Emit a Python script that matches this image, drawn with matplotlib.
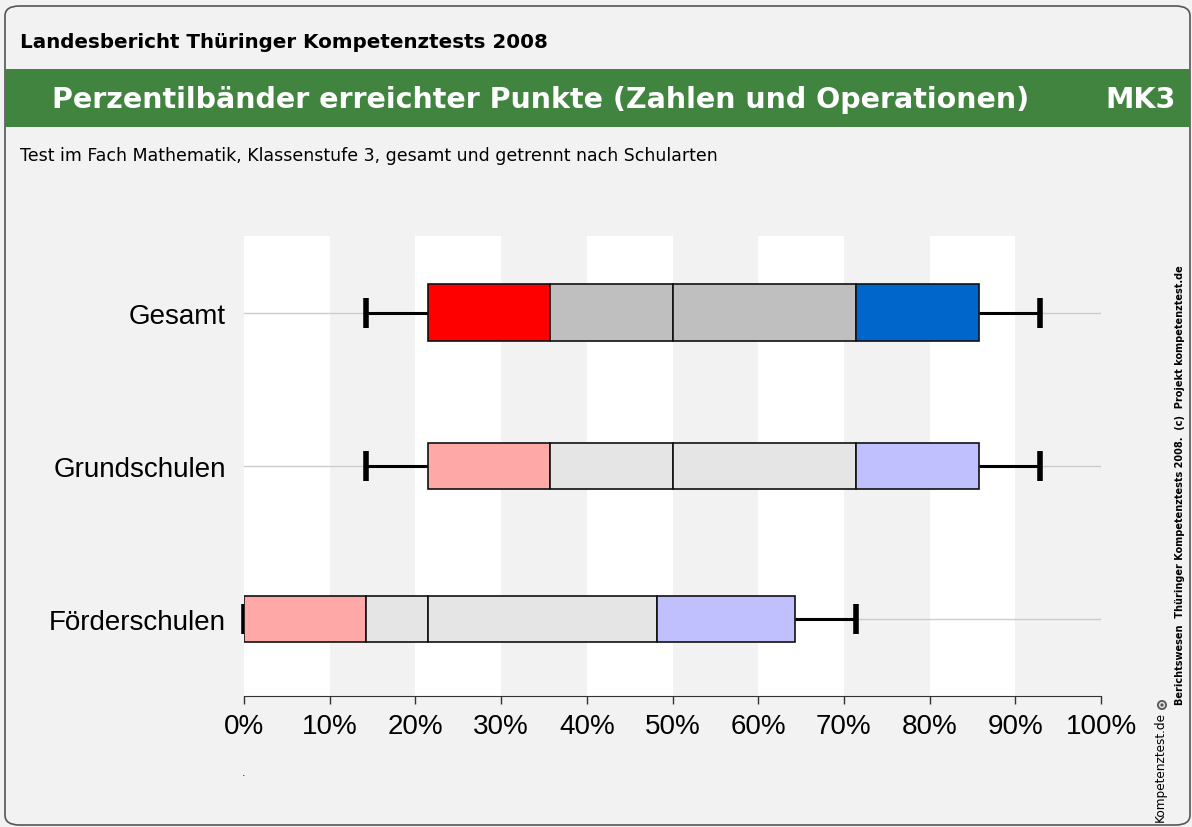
import matplotlib.pyplot as plt
from matplotlib.patches import FancyBboxPatch, Rectangle, Circle
import numpy as np

# Daten: Perzentile (in %) je Gruppe
gruppen = ['Gesamt', 'Grundschulen', 'Förderschulen']
p05 = [14.29, 14.29, 0.0]
p10 = [21.43, 21.43, 0.0]
p25 = [35.71, 35.71, 14.29]
p50 = [50.0, 50.0, 21.43]
p75 = [71.43, 71.43, 48.2]
p90 = [85.71, 85.71, 64.29]
p95 = [92.86, 92.86, 71.43]
x_ticks = [0, 10, 20, 30, 40, 50, 60, 70, 80, 90, 100]
x_labels = ['%d%%' % t for t in x_ticks]

# Farben: [unten, mitte, mitte, oben]
farben = [
    ['#ff0000', '#bfbfbf', '#bfbfbf', '#0066cc'],
    ['#ffa8a8', '#e5e5e5', '#e5e5e5', '#c0c0ff'],
    ['#ffa8a8', '#e5e5e5', '#e5e5e5', '#c0c0ff'],
]
hoehen = [0.374, 0.3, 0.3]
bg = '#f2f2f2'

fig = plt.figure(figsize=(11.92, 8.28), dpi=100)
fig.patch.set_facecolor(bg)

# Rahmen
rahmen = FancyBboxPatch((5 / 1192, 2 / 828), 1185 / 1192, 819 / 828,
                        boxstyle='round,pad=0,rounding_size=0.012',
                        transform=fig.transFigure, facecolor=bg,
                        edgecolor='#555555', linewidth=1.2, zorder=-10)
fig.patches.append(rahmen)
# gruener Balken
fig.patches.append(Rectangle((5 / 1192, (828 - 128) / 828), 1185 / 1192, 58 / 828,
                             transform=fig.transFigure, facecolor='#41843f',
                             edgecolor='none', zorder=-9))

fig.text(20 / 1192, 1 - 42 / 828, 'Landesbericht Thüringer Kompetenztests 2008',
         fontsize=14.3, fontweight='bold', va='center', ha='left',
         family='DejaVu Sans')
fig.text(52 / 1192, 1 - 100 / 828,
         'Perzentilbänder erreichter Punkte (Zahlen und Operationen)',
         fontsize=20.5, fontweight='bold', color='white', va='center', ha='left',
         family='DejaVu Sans')
fig.text(1176 / 1192, 1 - 100 / 828, 'MK3', fontsize=20.5, fontweight='bold',
         color='white', va='center', ha='right', family='DejaVu Sans')
fig.text(20 / 1192, 1 - 156 / 828,
         'Test im Fach Mathematik, Klassenstufe 3, gesamt und getrennt nach Schularten',
         fontsize=12.5, va='center', ha='left', family='DejaVu Sans')

fig.text(1180 / 1192, 1 - 485 / 828,
         'Berichtswesen  Thüringer Kompetenztests 2008.  (c)  Projekt kompetenztest.de',
         fontsize=7, fontweight='bold', rotation=90, va='center', ha='center',
         family='DejaVu Sans Condensed')
fig.text(1160 / 1192, 1 - 767 / 828, 'Kompetenztest.de', fontsize=8.7,
         rotation=90, va='center', ha='center', family='DejaVu Sans Condensed')
# kleines Logo-Symbol
for r, c in [(5, '#555555'), (3.2, '#dddddd'), (1.6, '#555555')]:
    fig.patches.append(Circle((1162, 828 - 706), r, transform=None,
                              facecolor=c, edgecolor='none'))
fig.text(244 / 1192, 1 - 773 / 828, '.', fontsize=8, ha='center', va='center')

ax = fig.add_axes([244 / 1192, 131 / 828, 857 / 1192, 460 / 828])
ax.set_facecolor(bg)
ax.set_xlim(0, 100)
ax.set_ylim(0.5, 3.5)

# weisse Streifen
for x0 in range(0, 100, 20):
    ax.axvspan(x0, x0 + 10, color='white', zorder=0, linewidth=0)

ypos = [3, 2, 1]
for i, y in enumerate(ypos):
    ax.plot([0, 100], [y, y], color='#cccccc', linewidth=1, zorder=1)
    # Whisker
    ax.plot([p05[i], p10[i]], [y, y], color='black', linewidth=2.2, zorder=2,
            solid_capstyle='butt')
    ax.plot([p90[i], p95[i]], [y, y], color='black', linewidth=2.2, zorder=2,
            solid_capstyle='butt')
    for xc in (p05[i], p95[i]):
        ax.plot([xc, xc], [y - 0.097, y + 0.097], color='black', linewidth=4,
                zorder=2, solid_capstyle='butt', clip_on=False)
    grenzen = [p10[i], p25[i], p50[i], p75[i], p90[i]]
    for k in range(4):
        ax.barh(y, grenzen[k + 1] - grenzen[k], left=grenzen[k], height=hoehen[i],
                color=farben[i][k], edgecolor='#111111', linewidth=1.2, zorder=3)

ax.set_yticks(ypos)
ax.set_yticklabels(gruppen, fontsize=20, family='Liberation Sans')
ax.tick_params(axis='y', length=0, pad=13)
ax.set_xticks(x_ticks)
ax.set_xticklabels(x_labels, fontsize=20, family='Liberation Sans')
ax.tick_params(axis='x', length=6, width=1, color='#333333', pad=6)
for s in ['top', 'right', 'left']:
    ax.spines[s].set_visible(False)
ax.spines['bottom'].set_color('#333333')

plt.savefig('out.png', dpi=100, facecolor=bg)
